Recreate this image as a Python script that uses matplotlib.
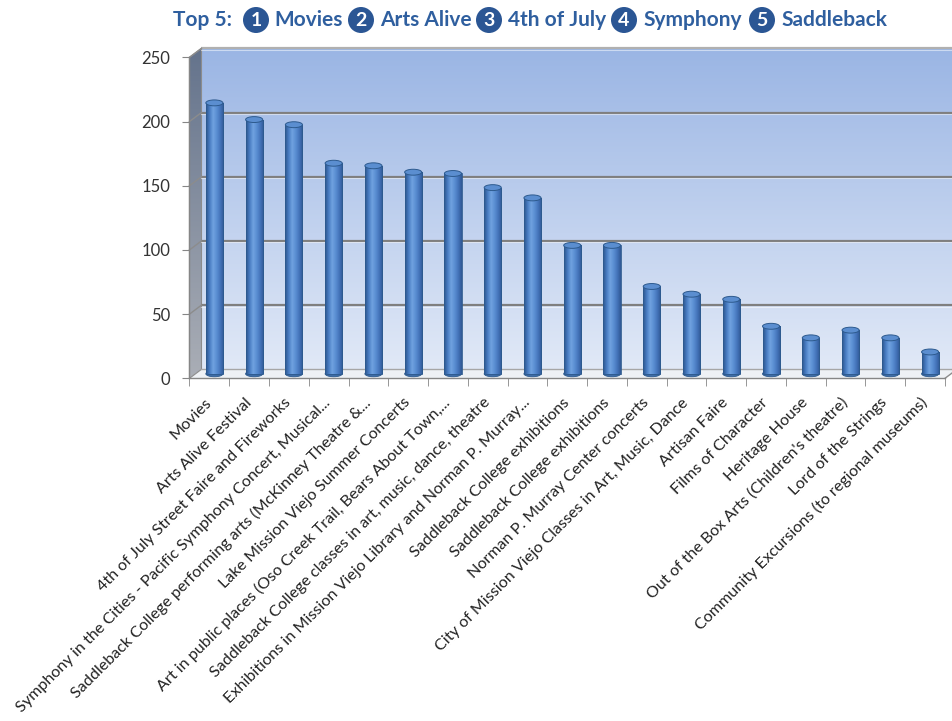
import numpy as np
import matplotlib
matplotlib.use("Agg")
import matplotlib.pyplot as plt
from matplotlib.patches import Polygon, Ellipse, Circle
import matplotlib.transforms as mtransforms

categories = [
    "Movies",
    "Arts Alive Festival",
    "4th of July Street Faire and Fireworks",
    "Symphony in the Cities - Pacific Symphony Concert, Musical...",
    "Saddleback College performing arts (McKinney Theatre &...",
    "Lake Mission Viejo Summer Concerts",
    "Art in public places (Oso Creek Trail, Bears About Town,...",
    "Saddleback College classes in art, music, dance, theatre",
    "Exhibitions in Mission Viejo Library and Norman P. Murray...",
    "Saddleback College exhibitions",
    "Saddleback College exhibitions",
    "Norman P. Murray Center concerts",
    "City of Mission Viejo Classes in Art, Music, Dance",
    "Artisan Faire",
    "Films of Character",
    "Heritage House",
    "Out of the Box Arts (Children's theatre)",
    "Lord of the Strings",
    "Community Excursions (to regional museums)",
]
values = [211, 198, 194, 164, 162, 157, 156, 145, 137, 100, 100, 68, 62, 58, 37, 28, 34, 28, 17]
yticks = [0, 50, 100, 150, 200, 250]
title_lead = "Top 5:"
title_items = ["Movies", "Arts Alive", "4th of July", "Symphony", "Saddleback"]

W, H = 953, 721
L, R, T, B = 189.5, 945.0, 57.3, 378.3   # front plot box in pixels
DX, DY = 12, 9                            # 3-D depth offset in pixels
YMAX = 250

fig = plt.figure(figsize=(W / 100, H / 100), dpi=100)

ov = fig.add_axes([0, 0, 1, 1], zorder=0)
ov.set_axis_off()

def yf(v):
    return B - v * (B - T) / YMAX

# back wall gradient
top_c = np.array([154, 181, 228]) / 255
bot_c = np.array([225, 233, 247]) / 255
tt = np.linspace(0, 1, 256)[:, None, None]
wall = top_c * (1 - tt) + bot_c * tt
wall = np.repeat(wall, 2, axis=1)
ov.imshow(wall, extent=(L + DX, R + DX, B - DY, T - DY), aspect="auto", zorder=0, interpolation="bilinear")

# side wall
side_top = np.array([100, 115, 140]) / 255
side_bot = np.array([170, 174, 182]) / 255
side = side_top * (1 - tt) + side_bot * tt
side = np.repeat(side, 2, axis=1)
sim = ov.imshow(side, extent=(L, L + DX, B, T - DY), aspect="auto", zorder=0.5, interpolation="bilinear")
side_poly = Polygon([(L, B), (L, T), (L + DX, T - DY), (L + DX, B - DY)], closed=True,
                    facecolor="none", edgecolor="#8C8C8C", lw=0.8, zorder=0.6)
ov.add_patch(side_poly)
sim.set_clip_path(side_poly)

# floor
floor = Polygon([(L, B), (R, B), (R + DX, B - DY), (L + DX, B - DY)], closed=True,
                facecolor="#EEF1F5", edgecolor="none", zorder=0.5)
ov.add_patch(floor)
ov.plot([L + DX, R + DX], [B - DY, B - DY], color="#A6A6A6", lw=1.0, zorder=0.7)
ov.plot([R, R + DX], [B, B - DY], color="#8C8C8C", lw=1.0, zorder=0.7)

# back-wall gridlines + side-wall diagonals
for v in yticks[1:]:
    yb = yf(v) - DY
    col = "#7F7F7F" if v < YMAX else "#B0B0B0"
    ov.plot([L + DX, R + DX], [yb, yb], color=col, lw=1.6, zorder=0.8, solid_capstyle="butt")
    ov.plot([L + DX, R + DX], [yb + 1.5, yb + 1.5], color="white", lw=0.8, alpha=0.5, zorder=0.8)
    ov.plot([L, L + DX], [yf(v), yb], color="#8C8C8C", lw=1.0, zorder=0.8)

# title
title_color = "#2F5F9F"
circ_color = "#2B5694"
lead_x = 173
circle_x = [256, 361, 489, 624, 762]
text_x = [274, 380, 508, 643, 781]
ty = 20
ov.text(lead_x, ty, title_lead, ha="left", va="center", fontsize=15, fontweight="bold",
        color=title_color, family=["Lato", "DejaVu Sans"])
for i, (cx, tx, lab) in enumerate(zip(circle_x, text_x, title_items)):
    ov.add_patch(Circle((cx, ty), 13, facecolor=circ_color, edgecolor="none", zorder=2))
    ov.text(cx, ty + 0.5, str(i + 1), ha="center", va="center", fontsize=14, fontweight="bold",
            color="white", family=["Lato", "DejaVu Sans"], zorder=3)
    ov.text(tx, ty, lab, ha="left", va="center", fontsize=15, fontweight="bold",
            color=title_color, family=["Lato", "DejaVu Sans"])

ov.set_xlim(0, W)
ov.set_ylim(H, 0)

# main axes
ax = fig.add_axes([L / W, 1 - B / H, (R - L) / W, (B - T) / H], zorder=1)
ax.set_facecolor("none")
x = np.arange(len(categories))
ax.set_xlim(-0.5, len(categories) - 0.5)
ax.set_ylim(0, YMAX)

for s in ["top", "right"]:
    ax.spines[s].set_visible(False)
for s in ["left", "bottom"]:
    ax.spines[s].set_color("#868686")
    ax.spines[s].set_linewidth(1.0)

ax.set_yticks(yticks)
ax.set_yticklabels([str(v) for v in yticks], fontsize=12, color="#333333", family=["Lato", "DejaVu Sans"])
ax.tick_params(axis="y", length=5, color="#868686", pad=9)

ax.set_xticks(x)
ax.set_xticklabels(categories, rotation=45, ha="right", va="center", rotation_mode="anchor",
                   fontsize=11.6, color="#222222", family=["Lato", "DejaVu Sans"])
ax.tick_params(axis="x", which="major", length=0, pad=16)
ax.set_xticks(np.arange(-0.5, len(categories), 1.0), minor=True)
ax.tick_params(axis="x", which="minor", length=6, color="#868686")

# cylinders
trans = ax.transData + mtransforms.ScaledTranslation(0.05, 0.045, fig.dpi_scale_trans)
bw = 0.43
eh = 4.6
cyl = np.array([[44, 84, 140], [72, 124, 194], [112, 162, 224], [90, 142, 210],
                [68, 116, 186], [48, 88, 148]]) / 255
cx_ = np.linspace(0, 1, cyl.shape[0])
xx = np.linspace(0, 1, 64)
row = np.stack([np.interp(xx, cx_, cyl[:, k]) for k in range(3)], axis=-1)
grad = np.repeat(row[None, :, :], 2, axis=0)

bars = ax.bar(x, values, width=bw, transform=trans, facecolor="none",
              edgecolor="#2D5A8E", linewidth=0.6, zorder=3)
for xi, v, rect in zip(x, values, bars):
    ax.add_patch(Ellipse((xi, 0), bw, eh, transform=trans, facecolor="#3E6CA6",
                         edgecolor="#2D5A8E", lw=0.6, zorder=1.9))
    im = ax.imshow(grad, extent=(xi - bw / 2, xi + bw / 2, 0, v), transform=trans,
                   aspect="auto", zorder=2, interpolation="bilinear")
    im.set_clip_path(rect)
    ax.add_patch(Ellipse((xi, v), bw, eh, transform=trans, facecolor="#5B8ED0",
                         edgecolor="#2D5A8E", lw=0.7, zorder=4))

ax.set_xlim(-0.5, len(categories) - 0.5)
ax.set_ylim(0, YMAX)

fig.savefig("out.png", dpi=100)
